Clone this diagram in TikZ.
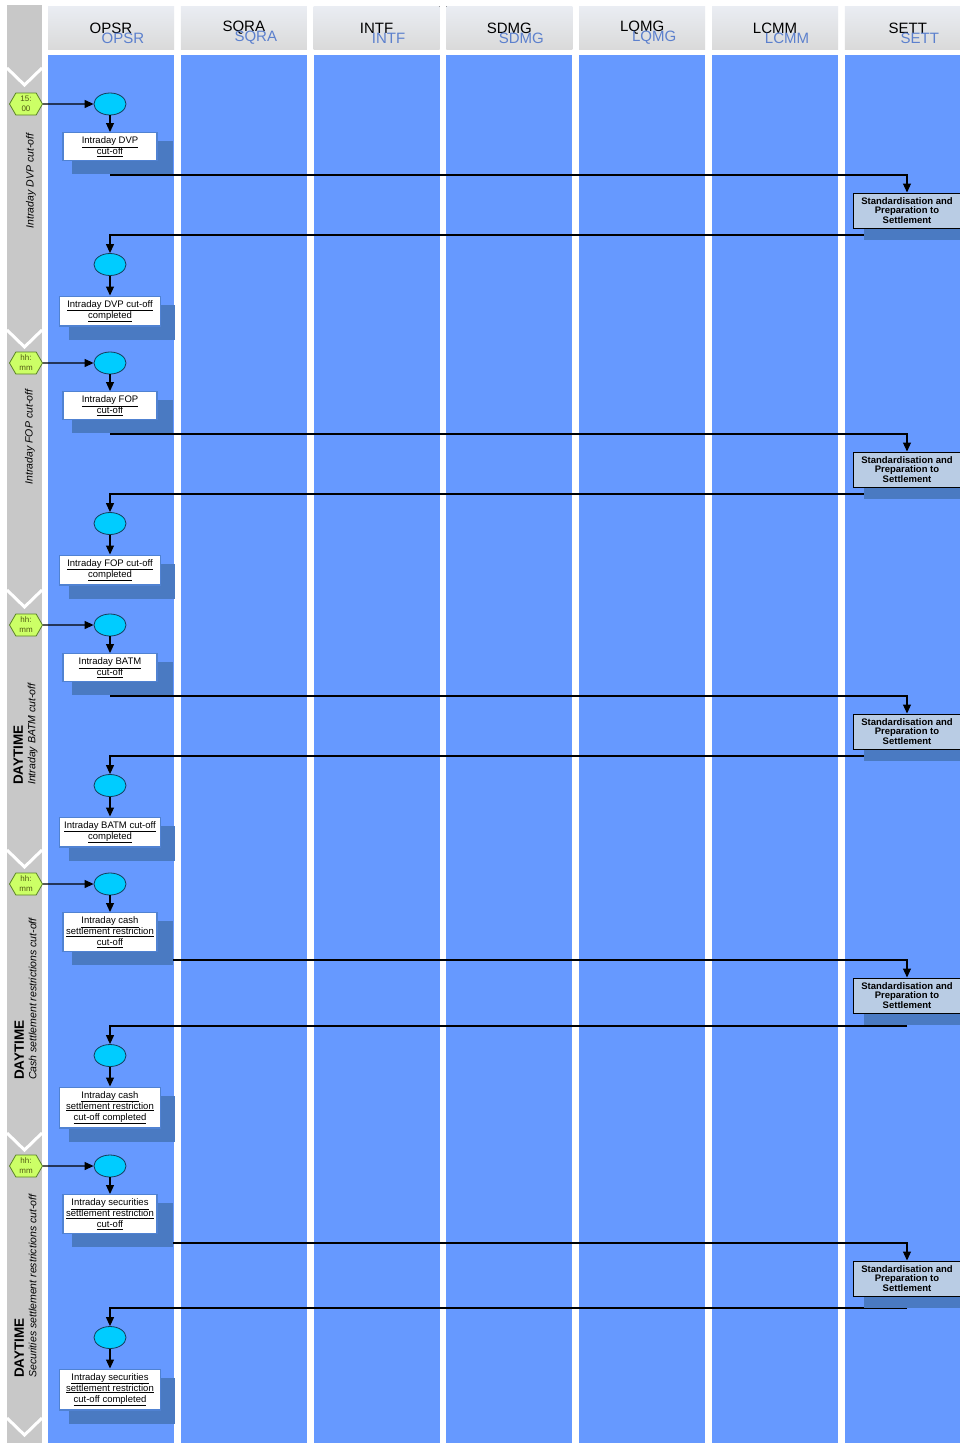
\documentclass[tikz,border=0pt]{standalone}
\usepackage{fontspec}
\setmainfont{Liberation Sans}
\usepackage{xcolor}
\usepackage{tikz}
\usetikzlibrary{positioning,arrows.meta,shapes.geometric,shapes.symbols,calc}

\definecolor{lanebg}{RGB}{102,153,255}
\definecolor{laneshadow}{RGB}{74,122,194}
\definecolor{phasegray}{RGB}{200,200,200}
\definecolor{headtop}{RGB}{234,237,243}
\definecolor{headbot}{RGB}{218,218,218}
\definecolor{headblue}{RGB}{92,128,205}
\definecolor{eventcyan}{RGB}{0,204,255}
\definecolor{eventedge}{RGB}{20,60,90}
\definecolor{timegreen}{RGB}{204,255,102}
\definecolor{timeedge}{RGB}{90,130,40}
\definecolor{timetext}{RGB}{80,90,20}
\definecolor{taskedge}{RGB}{80,130,210}
\definecolor{settfill}{RGB}{185,204,228}

\pgfdeclarelayer{lanes}
\pgfdeclarelayer{wires}
\pgfdeclarelayer{shade}
\pgfsetlayers{lanes,wires,shade,main}

\begin{document}
\begin{tikzpicture}[x=1pt, y=-1pt,
  lanehead/.style={top color=headtop, bottom color=headbot},
  headname/.style={font=\fontsize{15}{15}\selectfont, inner sep=0pt},
  event/.style={ellipse, draw=eventedge, fill=eventcyan, line width=0.8pt,
    minimum width=32pt, minimum height=22pt, inner sep=0pt},
  timebox/.style={signal, signal to=east and west, signal pointer angle=120,
    fill=timegreen, draw=timeedge, line width=0.8pt, minimum width=33pt,
    minimum height=22pt, inner sep=0pt, align=center, text=timetext,
    font=\fontsize{8}{10}\selectfont},
  task/.style={draw=taskedge, fill=white, line width=1.3pt, align=center,
    inner xsep=2pt, inner ysep=4pt, minimum width=94pt,
    font=\fontsize{9.5}{11}\selectfont},
  done/.style={task, minimum width=101pt},
  settbox/.style={draw=black, fill=settfill, line width=1pt, align=center,
    minimum width=108pt, minimum height=35pt, inner sep=0pt,
    font=\fontsize{9.5}{9.3}\selectfont\bfseries},
  flow/.style={-{Triangle[length=9pt,width=8pt]}, line width=1.1pt},
  phase/.style={rotate=90, align=left, inner sep=0pt,
    font=\fontsize{10.5}{12.5}\selectfont\itshape}
]
  \useasboundingbox (0,0) rectangle (960,1443);

  % Lanes and headers
  \begin{pgfonlayer}{lanes}
    \fill[white] (0,0) rectangle (960,1443);
    \fill[phasegray] (7,5) rectangle (42,1443);
    \foreach \v in {85,347,607,867,1150,1435}
      \draw[white, line width=3pt] (7,\v-17) -- (24.5,\v) -- (42,\v-17);
    \foreach \name [count=\i from 0] in {OPSR,SQRA,INTF,SDMG,LQMG,LCMM,SETT} {
      \pgfmathsetmacro\lx{48+132.8*\i}
      \fill[lanebg] (\lx,55) rectangle ++(126,1388);
      \fill[lanehead] (\lx,6) rectangle ++(126,43);
      \node[headname] (h\name) at (\lx+63,28) {\name};
      \node[headname, text=headblue] (hb\name) at (\lx+75,38) {\name};
    }
  \end{pgfonlayer}

  % Phase labels
  \node[phase] (p1) at (31,181) {Intraday DVP cut-off};
  \node[phase] (p2) at (30,437) {Intraday FOP cut-off};
  \node[phase, anchor=west] (p3) at (25.5,785)
    {{\fontsize{13.5}{13}\selectfont\upshape\bfseries DAYTIME}\\Intraday BATM cut-off};
  \node[phase, anchor=west] (p4) at (25.5,1080)
    {{\fontsize{13.5}{13}\selectfont\upshape\bfseries DAYTIME}\\Cash settlement restrictions cut-off};
  \node[phase, anchor=west] (p5) at (25.5,1378)
    {{\fontsize{13.5}{13}\selectfont\upshape\bfseries DAYTIME}\\Securities settlement restrictions cut-off};

  % Cut-off sections
  \foreach \n/\ey/\ly/\ry/\hh/\tasktext/\donetext in {
    1/104/175/235/{15:\\00}/{\underline{Intraday DVP}\\\underline{cut-off}}/{\underline{Intraday DVP cut-off}\\\underline{completed}},
    2/363/434/494/{hh:\\mm}/{\underline{Intraday FOP}\\\underline{cut-off}}/{\underline{Intraday FOP cut-off}\\\underline{completed}},
    3/625/696/756/{hh:\\mm}/{\underline{Intraday BATM}\\\underline{cut-off}}/{\underline{Intraday BATM cut-off}\\\underline{completed}},
    4/884/960/1026/{hh:\\mm}/{\underline{Intraday cash}\\\underline{settlement restriction}\\\underline{cut-off}}/{\underline{Intraday cash}\\\underline{settlement restriction}\\\underline{cut-off completed}},
    5/1166/1243/1308/{hh:\\mm}/{\underline{Intraday securities}\\\underline{settlement restriction}\\\underline{cut-off}}/{\underline{Intraday securities}\\\underline{settlement restriction}\\\underline{cut-off completed}}} {
    \node[timebox] (t\n) at (26,\ey) {\hh};
    \node[event] (a\n) at (110,\ey) {};
    \node[task, anchor=north] (k\n) at (110,\ey+28) {\tasktext};
    \node[settbox, anchor=north] (s\n) at (907,\ly+17.5) {Standardisation and\\Preparation to\\Settlement};
    \node[event] (z\n) at (110,\ry+29.5) {};
    \node[done, anchor=north] (d\n) at (110,\ry+60.5) {\donetext};
    \coordinate (o\n) at (110,\ly);
    \coordinate (b\n) at (907,\ry);
    \draw[flow] (t\n) -- (a\n);
    \draw[flow] (a\n) -- (k\n);
    \draw[flow] (z\n) -- (d\n);
    \begin{pgfonlayer}{wires}
      \draw[flow] (o\n) -| (s\n);
      \draw[flow] (b\n) -| (z\n);
    \end{pgfonlayer}
    \begin{pgfonlayer}{shade}
      \fill[laneshadow] ([xshift=10pt,yshift=-9pt]k\n.north west) rectangle ([xshift=15pt,yshift=-13pt]k\n.south east);
      \fill[laneshadow] ([xshift=10pt,yshift=-9pt]d\n.north west) rectangle ([xshift=14pt,yshift=-13pt]d\n.south east);
      \fill[laneshadow] ([xshift=11pt,yshift=-9pt]s\n.north west) rectangle ([xshift=11pt,yshift=-11pt]s\n.south east);
    \end{pgfonlayer}
  }
\end{tikzpicture}
\end{document}
